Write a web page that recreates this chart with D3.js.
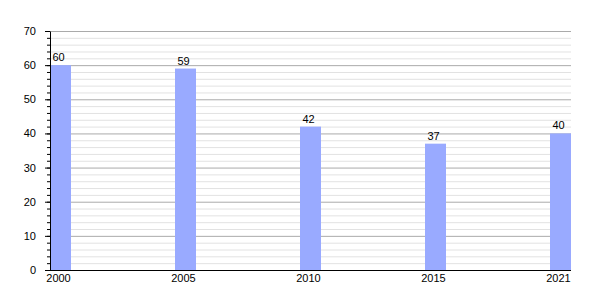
<!DOCTYPE html>
<html lang="en">
<head>
  <script src="https://d3js.org/d3.v7.min.js"></script>
  <style>
    body { margin: 0; background: #fff; }
    text { font-family: "Liberation Sans", Arial, sans-serif; }
  </style>
</head>
<body>
  <svg width="600" height="300"></svg>
  <script>
    // data
    var years = ["2000", "2005", "2010", "2015", "2021"];
    var values = [60, 59, 42, 37, 40];
    var yTicks = [0, 10, 20, 30, 40, 50, 60, 70];

    var svg = d3.select("svg");
    var marginLeft = 50, marginTop = 31;
    var width = 521, height = 239;
    var barW = 21;

    var x = d3.scalePoint().domain(years).range([0, 500]);
    var y = d3.scaleLinear().domain([0, 70]).range([height, 0]);

    var g = svg.append("g")
      .attr("transform", "translate(" + marginLeft + "," + marginTop + ")");

    // minor grid every 2
    g.selectAll(".minor")
      .data(d3.range(2, 71, 2).filter(function(d) { return d % 10 != 0; }))
      .enter().append("line")
      .attr("x1", 0).attr("x2", width)
      .attr("y1", function(d) { return y(d) + 0.5; })
      .attr("y2", function(d) { return y(d) + 0.5; })
      .attr("stroke", "#e2e2e2");

    // major grid
    g.selectAll(".major")
      .data(yTicks.slice(1))
      .enter().append("line")
      .attr("x1", 0).attr("x2", width)
      .attr("y1", function(d) { return y(d) + 0.5; })
      .attr("y2", function(d) { return y(d) + 0.5; })
      .attr("stroke", "#aaaaaa");

    // bars
    g.selectAll("rect")
      .data(values)
      .enter().append("rect")
      .attr("x", function(d, i) { return x(years[i]); })
      .attr("y", function(d) { return y(d); })
      .attr("width", barW)
      .attr("height", function(d) { return height - y(d); })
      .attr("fill", "#99aaff");

    // value labels
    g.selectAll(".val")
      .data(values)
      .enter().append("text")
      .attr("class", "val")
      .attr("x", function(d, i) { return x(years[i]) + barW / 2 - 2; })
      .attr("y", function(d) { return y(d) - 4; })
      .attr("text-anchor", "middle")
      .attr("font-size", "11px")
      .attr("fill", "#000")
      .text(function(d) { return d; });

    // y axis with minor ticks
    g.selectAll(".mtick")
      .data(d3.range(0, 71, 2))
      .enter().append("line")
      .attr("x1", -3).attr("x2", 0)
      .attr("y1", function(d) { return y(d) + 0.5; })
      .attr("y2", function(d) { return y(d) + 0.5; })
      .attr("stroke", "#000");

    var yAxis = g.append("g")
      .call(d3.axisLeft(y).tickValues(yTicks).tickSize(5).tickPadding(9).tickSizeOuter(0));
    yAxis.selectAll("text").attr("font-size", "11px").attr("font-family", "Liberation Sans, Arial, sans-serif");

    // x axis
    g.append("line")
      .attr("x1", 0).attr("x2", width)
      .attr("y1", height + 0.5).attr("y2", height + 0.5)
      .attr("stroke", "#000");

    g.selectAll(".xlab")
      .data(years)
      .enter().append("text")
      .attr("class", "xlab")
      .attr("x", function(d) { return x(d) + barW / 2 - 2; })
      .attr("y", height + 12)
      .attr("text-anchor", "middle")
      .attr("font-size", "11px")
      .text(function(d) { return d; });
  </script>
</body>
</html>
